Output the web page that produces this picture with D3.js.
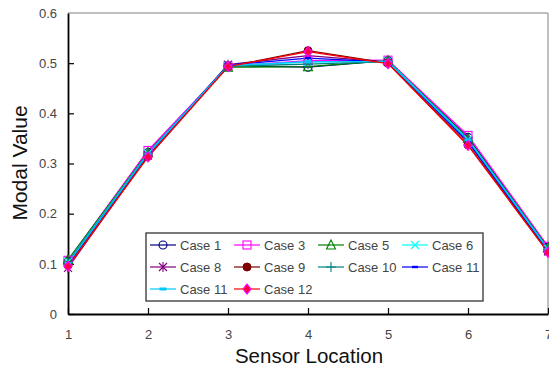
<!DOCTYPE html>
<html>
<head>
<meta charset="utf-8">
<script src="https://cdn.jsdelivr.net/npm/d3@7"></script>
<style>
  body { margin: 0; background: #fff; }
  svg { font-family: "Liberation Sans", Arial, sans-serif; }
</style>
</head>
<body>
<svg id="chart" width="549" height="369"></svg>
<script>
var sensors = [1, 2, 3, 4, 5, 6, 7];
var yTicks = [0, 0.1, 0.2, 0.3, 0.4, 0.5, 0.6];

var caseNames = ['Case 1', 'Case 3', 'Case 5', 'Case 6', 'Case 8', 'Case 9', 'Case 10', 'Case 11', 'Case 11', 'Case 12'];
var case1  = [0.105, 0.322, 0.495, 0.492, 0.505, 0.352, 0.133];
var case3  = [0.107, 0.326, 0.494, 0.505, 0.506, 0.356, 0.135];
var case5  = [0.108, 0.322, 0.492, 0.493, 0.505, 0.350, 0.132];
var case6  = [0.104, 0.320, 0.495, 0.502, 0.504, 0.348, 0.130];
var case8  = [0.092, 0.316, 0.497, 0.515, 0.502, 0.342, 0.125];
var case9  = [0.097, 0.314, 0.493, 0.525, 0.500, 0.337, 0.124];
var case10 = [0.103, 0.319, 0.494, 0.498, 0.503, 0.346, 0.129];
var case11a = [0.100, 0.318, 0.496, 0.510, 0.502, 0.344, 0.127];
var case11b = [0.101, 0.319, 0.495, 0.503, 0.503, 0.347, 0.129];
var case12 = [0.095, 0.313, 0.493, 0.523, 0.499, 0.336, 0.123];

var seriesValues = [case1, case3, case5, case6, case8, case9, case10, case11a, case11b, case12];
var lineColors = ['#000080', '#ff00ff', '#008000', '#00ffff', '#800080', '#800000', '#008080', '#0000ff', '#00c8ff', '#ff0000'];
var markerKinds = ['circle', 'square', 'triangle', 'x', 'star', 'dot', 'plus', 'bar', 'dash', 'diamond'];

var series = caseNames.map((n, i) => ({name: n, values: seriesValues[i], color: lineColors[i], marker: markerKinds[i]}));

var svg = d3.select("#chart");
var margin = {left: 68, right: 1, top: 13, bottom: 55};
var W = 549, H = 369;

var x = d3.scaleLinear().domain([1, 7]).range([margin.left, W - margin.right]);
var y = d3.scaleLinear().domain([0, 0.6]).range([H - margin.bottom, margin.top]);

// frame: top and right in grey
svg.append("line").attr("x1", x(1)).attr("x2", x(7)).attr("y1", y(0.6)).attr("y2", y(0.6))
  .attr("stroke", "#aaa").attr("stroke-width", 1.5);
svg.append("line").attr("x1", x(7)).attr("x2", x(7)).attr("y1", y(0.6)).attr("y2", y(0))
  .attr("stroke", "#aaa").attr("stroke-width", 1.5);

// axes, ticks pointing inward
var xAxis = svg.append("g").attr("transform", `translate(0,${y(0)})`)
  .call(d3.axisBottom(x).tickValues(sensors).tickFormat(d3.format("d")).tickSizeInner(-6).tickSizeOuter(0).tickPadding(16));
var yAxis = svg.append("g").attr("transform", `translate(${x(1)},0)`)
  .call(d3.axisLeft(y).tickValues(yTicks).tickFormat(d => d === 0 ? "0" : d3.format(".1f")(d)).tickSizeInner(-6).tickSizeOuter(0).tickPadding(11));
[xAxis, yAxis].forEach(g => {
  g.select(".domain").attr("stroke", "#000").attr("stroke-width", 1.8);
  g.selectAll(".tick line").attr("stroke", "#000").attr("stroke-width", 1.2);
  g.selectAll(".tick text").attr("fill", "#444").style("font-size", "13px");
});
yAxis.selectAll(".tick").filter(d => d === 0.6).select("line").remove();

svg.append("text").attr("x", 309).attr("y", 363).attr("text-anchor", "middle")
  .style("font-size", "20.5px").attr("fill", "#111").text("Sensor Location");
svg.append("text").attr("transform", "translate(27,163) rotate(-90)").attr("text-anchor", "middle")
  .style("font-size", "21px").attr("fill", "#111").text("Modal Value");

function drawMarker(g, kind, color) {
  var s = 4;
  if (kind === 'circle') g.append("circle").attr("r", s).attr("fill", "none").attr("stroke", color).attr("stroke-width", 1.1);
  else if (kind === 'square') g.append("rect").attr("x", -s).attr("y", -s).attr("width", 2 * s).attr("height", 2 * s).attr("fill", "none").attr("stroke", color).attr("stroke-width", 1.1);
  else if (kind === 'triangle') g.append("path").attr("d", `M0,${-s - 1}L${s + 0.5},${s}L${-s - 0.5},${s}Z`).attr("fill", "none").attr("stroke", color).attr("stroke-width", 1.1);
  else if (kind === 'x') g.append("path").attr("d", `M${-s},${-s}L${s},${s}M${-s},${s}L${s},${-s}`).attr("stroke", color).attr("stroke-width", 1.1);
  else if (kind === 'star') g.append("path").attr("d", `M${-s},${-s}L${s},${s}M${-s},${s}L${s},${-s}M0,${-s - 1}L0,${s + 1}`).attr("stroke", color).attr("stroke-width", 1.1);
  else if (kind === 'dot') g.append("circle").attr("r", s).attr("fill", color).attr("stroke", color);
  else if (kind === 'plus') g.append("path").attr("d", `M${-s - 1},0L${s + 1},0M0,${-s - 1}L0,${s + 1}`).attr("stroke", color).attr("stroke-width", 1.1);
  else if (kind === 'bar') g.append("rect").attr("x", -3).attr("y", -1.2).attr("width", 6).attr("height", 2.4).attr("fill", color);
  else if (kind === 'dash') g.append("rect").attr("x", -3.5).attr("y", -1.5).attr("width", 7).attr("height", 3).attr("fill", color);
  else if (kind === 'diamond') g.append("path").attr("d", `M0,${-s - 1}L${s},0L0,${s + 1}L${-s},0Z`).attr("fill", "#ff0040").attr("stroke", "#ff00ff").attr("stroke-width", 1.1);
}

var line = d3.line().x((d, i) => x(sensors[i])).y(d => y(d));

var plot = svg.append("g");
series.forEach(s => {
  plot.append("path").attr("d", line(s.values)).attr("fill", "none").attr("stroke", s.color).attr("stroke-width", 1.3);
});
series.forEach(s => {
  plot.selectAll(null).data(s.values).join("g")
    .attr("transform", (d, i) => `translate(${x(sensors[i])},${y(d)})`)
    .each(function() { drawMarker(d3.select(this), s.marker, s.color); });
});

// legend
var legend = svg.append("g");
legend.append("rect").attr("x", 146).attr("y", 233).attr("width", 337).attr("height", 68)
  .attr("fill", "#fff").attr("stroke", "#333").attr("stroke-width", 1.3);
series.forEach((s, i) => {
  var col = i % 4, row = Math.floor(i / 4);
  var lx = 150 + col * 84, ly = 245 + row * 22;
  var g = legend.append("g");
  g.append("line").attr("x1", lx).attr("x2", lx + 26).attr("y1", ly).attr("y2", ly).attr("stroke", s.color).attr("stroke-width", 1.2);
  drawMarker(g.append("g").attr("transform", `translate(${lx + 13},${ly})`), s.marker, s.color);
  g.append("text").attr("x", lx + 30).attr("y", ly + 4.5).style("font-size", "13px").attr("fill", "#444").text(s.name);
});
</script>
</body>
</html>
